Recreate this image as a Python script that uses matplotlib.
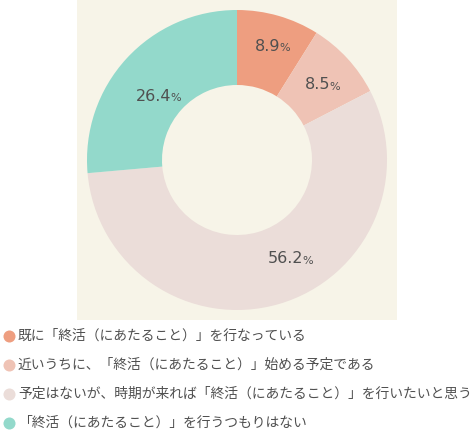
import numpy as np
import matplotlib.pyplot as plt

# Data
labels = [
    "既に「終活（にあたること）」を行なっている",
    "近いうちに、「終活（にあたること）」始める予定である",
    "予定はないが、時期が来れば「終活（にあたること）」を行いたいと思う",
    "「終活（にあたること）」を行うつもりはない",
]
values = [8.9, 8.5, 56.2, 26.4]
colors = ["#EE9E80", "#EFC3B5", "#EBDDD9", "#93D9CB"]
# small hand nudges for the % labels (points)
nudges = [(3, 1), (0, -3), (19, 10), (10, -11)]

bg = "#F7F4E8"
text_col = "#505050"
jp_font = ["Noto Sans CJK JP", "DejaVu Sans"]

fig = plt.figure(figsize=(4.74, 4.40), dpi=100)
W, H = 474, 440

# pie panel: square 77..397 px wide, 0..320 px from the top
ax = fig.add_axes([77 / W, (H - 320) / H, 320 / W, 320 / H])
ax.set_facecolor(bg)
lim = 160 / 150

wedges, _ = ax.pie(values, colors=colors, startangle=90, counterclock=False,
                   radius=1.0, wedgeprops=dict(width=0.5, linewidth=0),
                   frame=True)
ax.set_aspect("equal")
ax.set_xlim(-lim, lim)
ax.set_ylim(-lim, lim)
ax.set_xticks([])
ax.set_yticks([])
for s in ax.spines.values():
    s.set_visible(False)

r_lab = 0.78
for w, v, (dx, dy) in zip(wedges, values, nudges):
    ang = np.deg2rad((w.theta1 + w.theta2) / 2)
    x, y = r_lab * np.cos(ang), r_lab * np.sin(ang)
    ax.annotate(f"{v:.1f}", (x, y), xytext=(dx + 5, dy), textcoords="offset points",
                ha="right", va="center", fontsize=11.5, color=text_col,
                family="DejaVu Sans")
    ax.annotate("%", (x, y), xytext=(dx + 4.5, dy - 1.5), textcoords="offset points",
                ha="left", va="center", fontsize=8, color=text_col,
                family="DejaVu Sans")

# legend below the panel, drawn in pixel coords
lg = fig.add_axes([0, 0, 1, 120 / H])
lg.set_xlim(0, W)
lg.set_ylim(0, 120)
lg.axis("off")
row_y = [104, 75, 46, 17]
for lab, c, yy in zip(labels, colors, row_y):
    lg.scatter([9], [yy], s=75, color=c, linewidths=0)
    lg.text(18, yy, lab, ha="left", va="center", fontsize=9.95,
            color=text_col, family=jp_font)

fig.savefig("out.png", dpi=100, facecolor="white")
